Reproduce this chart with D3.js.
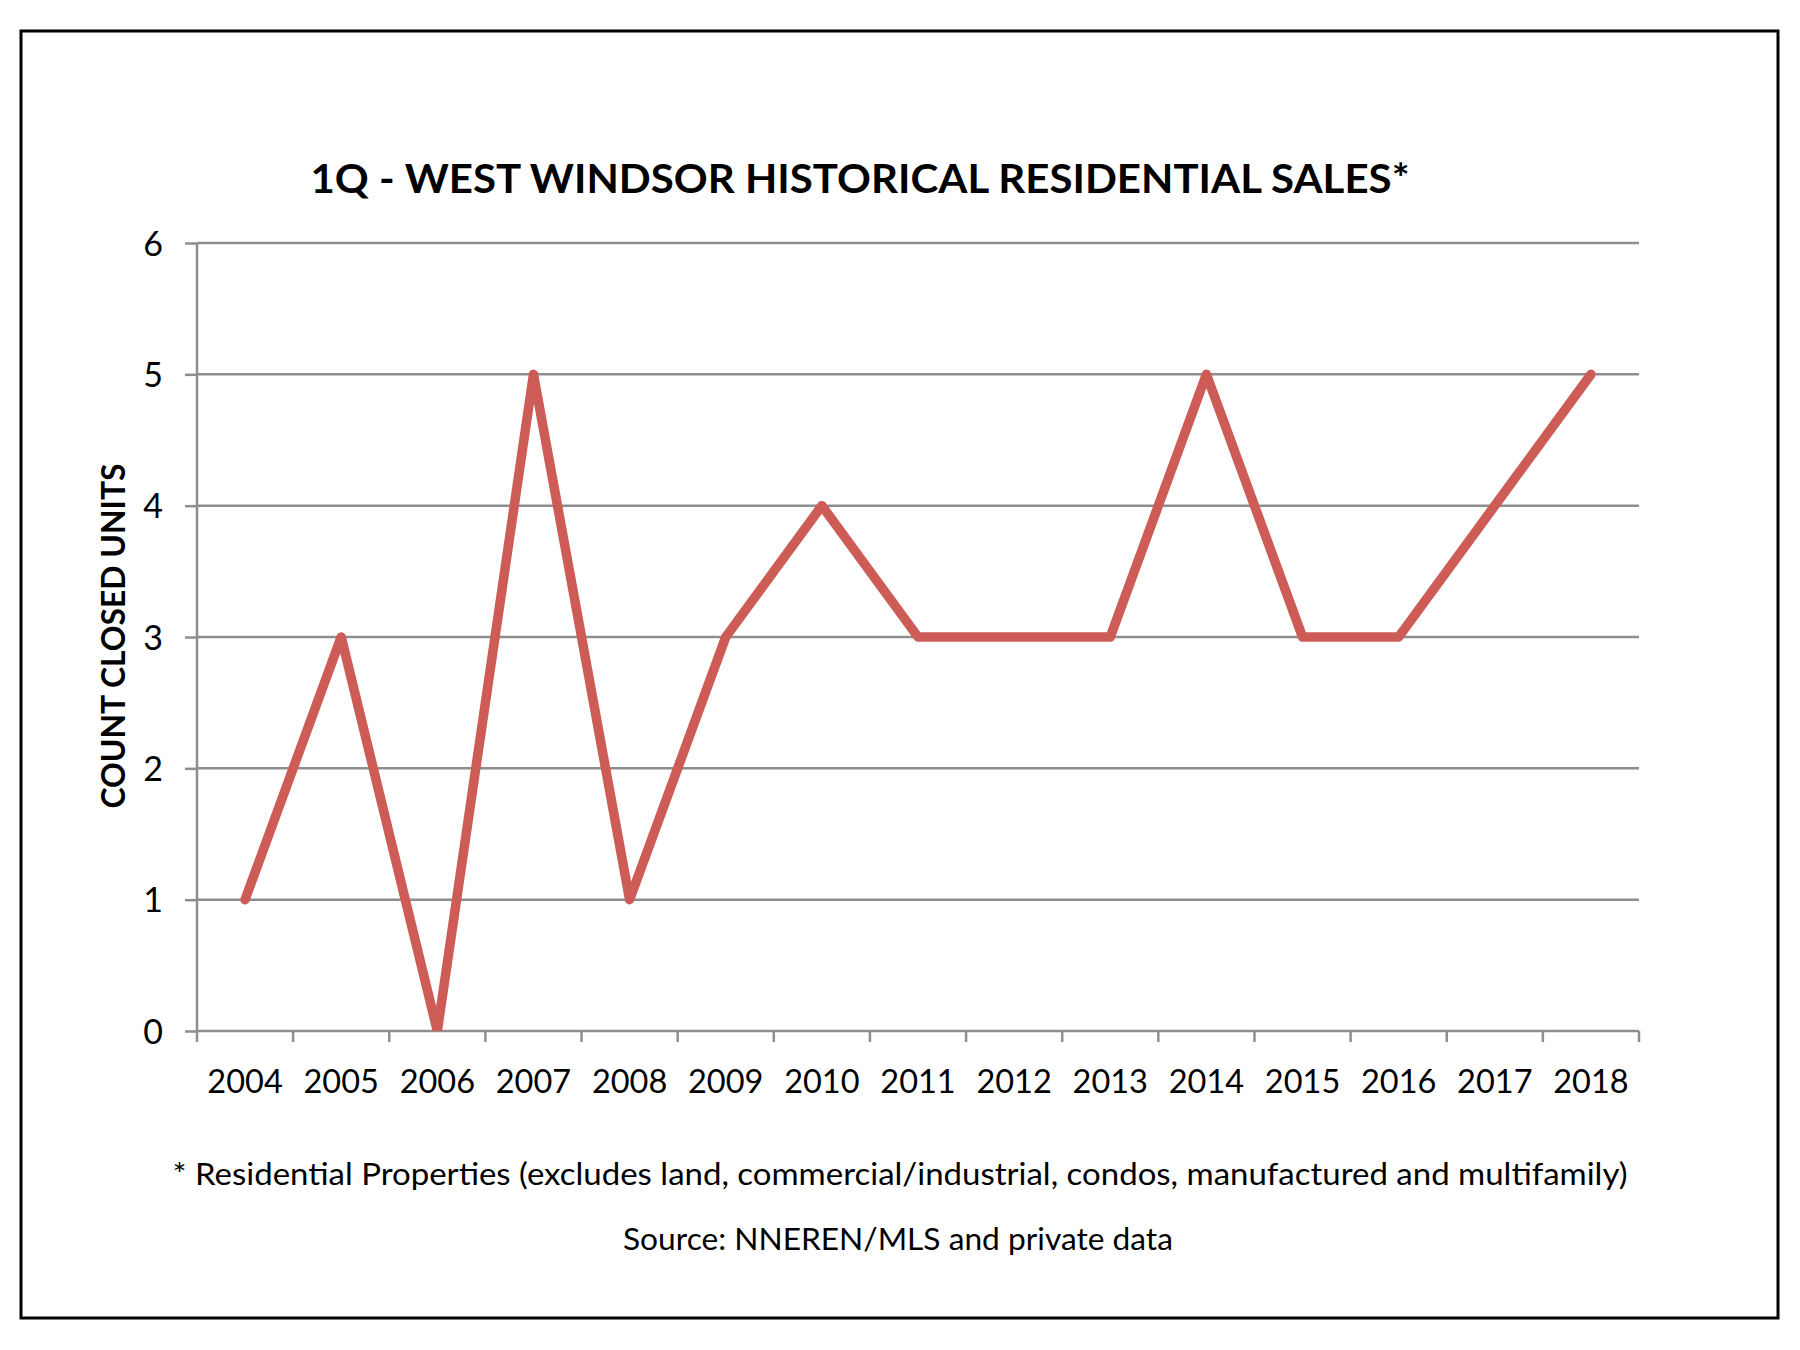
<!DOCTYPE html>
<html>
<head>
<meta charset="utf-8">
<script src="https://cdn.jsdelivr.net/npm/d3@7"></script>
<style>
  html, body { margin: 0; padding: 0; background: #fff; }
  svg { display: block; }
  text { font-family: Lato, "Open Sans", sans-serif; fill: #000; }
</style>
</head>
<body>
<script>
const years = ["2004","2005","2006","2007","2008","2009","2010","2011","2012","2013","2014","2015","2016","2017","2018"];
const closedUnits = [1,3,0,5,1,3,4,3,3,3,5,3,3,4,5];
const yTicks = [0,1,2,3,4,5,6];
const titleText = "1Q - WEST WINDSOR HISTORICAL RESIDENTIAL SALES*";
const yAxisTitle = "COUNT CLOSED UNITS";
const footnote1 = "* Residential Properties (excludes land, commercial/industrial, condos, manufactured and multifamily)";
const footnote2 = "Source: NNEREN/MLS and private data";

const W = 1800, H = 1350;
const svg = d3.select("body").append("svg").attr("width", W).attr("height", H);

// outer frame
svg.append("rect").attr("x", 21).attr("y", 31).attr("width", 1757).attr("height", 1287)
  .attr("fill", "#fff").attr("stroke", "#000").attr("stroke-width", 3);

const pLeft = 197, pRight = 1639, pTop = 243, pBottom = 1031;
const x = d3.scaleBand().domain(years).range([pLeft, pRight]).padding(0);
const y = d3.scaleLinear().domain([0, 6]).range([pBottom, pTop]);
const grey = "#8e8e8e";

// gridlines
svg.append("g").selectAll("line").data(yTicks.filter(d => d > 0)).join("line")
  .attr("x1", pLeft).attr("x2", pRight)
  .attr("y1", d => y(d)).attr("y2", d => y(d))
  .attr("stroke", grey).attr("stroke-width", 2.5);

// y axis
const yAxis = svg.append("g").attr("transform", `translate(${pLeft},0)`)
  .call(d3.axisLeft(y).tickValues(yTicks).tickSize(12).tickPadding(22).tickFormat(d3.format("d")));
yAxis.select(".domain").attr("stroke", grey).attr("stroke-width", 2.5).attr("d", `M0,${pTop}V${pBottom}`);
yAxis.selectAll(".tick line").attr("stroke", grey).attr("stroke-width", 2.5);
yAxis.selectAll(".tick text").attr("font-size", 34).attr("dy", "0.36em").attr("font-family", "Lato").attr("fill", "#000");

// x axis (ticks at band boundaries)
const xg = svg.append("g").attr("transform", `translate(0,${pBottom})`);
xg.append("line").attr("x1", pLeft).attr("x2", pRight).attr("y1", 0).attr("y2", 0)
  .attr("stroke", grey).attr("stroke-width", 2.5);
const boundaries = years.map(d => x(d)).concat([pRight]);
xg.selectAll("line.tk").data(boundaries).join("line").attr("class", "tk")
  .attr("x1", d => d).attr("x2", d => d).attr("y1", 0).attr("y2", 11)
  .attr("stroke", grey).attr("stroke-width", 2.5);
xg.selectAll("text").data(years).join("text")
  .attr("x", d => x(d) + x.bandwidth() / 2).attr("y", 62)
  .attr("text-anchor", "middle").attr("font-size", 32.5).text(d => d);

// clip for line
svg.append("clipPath").attr("id", "plotclip").append("rect")
  .attr("x", pLeft).attr("y", 0).attr("width", pRight - pLeft + 20).attr("height", pBottom);

const line = d3.line()
  .x((d, i) => x(years[i]) + x.bandwidth() / 2)
  .y(d => y(d));
svg.append("path").datum(closedUnits)
  .attr("d", line)
  .attr("fill", "none")
  .attr("stroke", "#cd5c57")
  .attr("stroke-width", 9.5)
  .attr("stroke-linejoin", "round")
  .attr("stroke-linecap", "round")
  .attr("clip-path", "url(#plotclip)");

// title
svg.append("text").attr("x", 860).attr("y", 193).attr("text-anchor", "middle")
  .attr("font-size", 41).attr("font-weight", "bold")
  .attr("textLength", 1099).attr("lengthAdjust", "spacingAndGlyphs")
  .text(titleText);

// y axis title
svg.append("text").attr("transform", "translate(125,636) rotate(-90)")
  .attr("text-anchor", "middle").attr("font-size", 32).attr("font-weight", "bold")
  .attr("textLength", 345).attr("lengthAdjust", "spacingAndGlyphs")
  .text(yAxisTitle);

// footnotes
svg.append("text").attr("x", 900).attr("y", 1185).attr("text-anchor", "middle")
  .attr("font-size", 30).attr("textLength", 1455).attr("lengthAdjust", "spacingAndGlyphs")
  .text(footnote1);
svg.append("text").attr("x", 898).attr("y", 1250).attr("text-anchor", "middle")
  .attr("font-size", 30).attr("textLength", 550).attr("lengthAdjust", "spacingAndGlyphs")
  .text(footnote2);
</script>
</body>
</html>
